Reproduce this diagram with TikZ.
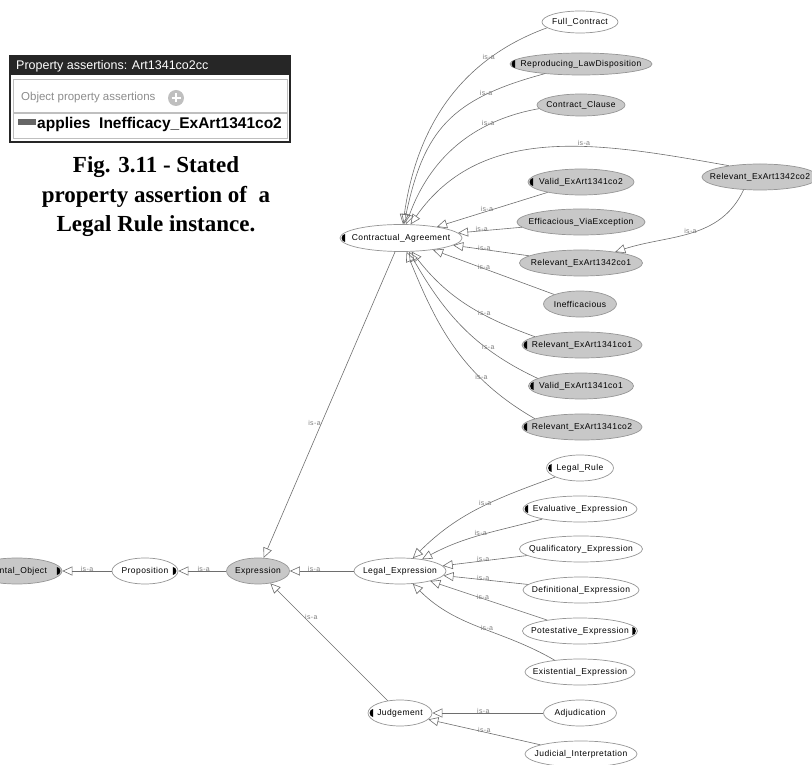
\documentclass[tikz,border=0pt]{standalone}
\usepackage{fontspec}
\usetikzlibrary{shapes.geometric, arrows.meta}

\newfontfamily\ontofont[LetterSpace=5]{Liberation Sans}
\newfontfamily\panelfont{Liberation Sans}
\newfontfamily\capfont{Liberation Serif}

\definecolor{clsgray}{RGB}{200,200,200}
\definecolor{rimgray}{RGB}{150,150,150}
\definecolor{edgegray}{RGB}{110,110,110}
\definecolor{isagray}{RGB}{125,125,125}
\definecolor{bardark}{RGB}{38,38,38}

% small black half-disc markers inside the ellipses
\newcommand\markl[1]{\fill ([xshift=5.5pt]#1.west) ++(0,4pt) arc[start angle=90, end angle=270, x radius=3.5pt, y radius=4pt] -- cycle;}
\newcommand\markr[1]{\fill ([xshift=-5.5pt]#1.east) ++(0,4pt) arc[start angle=90, end angle=-90, x radius=3.5pt, y radius=4pt] -- cycle;}

\begin{document}
\begin{tikzpicture}[x=1pt, y=1pt,
    cls/.style={ellipse, draw=rimgray, line width=0.7pt, inner sep=0pt,
      minimum height=26pt, font=\ontofont\fontsize{8.5}{9}\selectfont,
      execute at begin node={\hbox to 0pt\bgroup\hss},
      execute at end node={\hss\egroup}},
    gcls/.style={cls, fill=clsgray},
    wcls/.style={cls, fill=white},
    isa/.style={font=\ontofont\fontsize{7}{7}\selectfont, text=isagray, inner sep=0.5pt, yshift=2pt},
    sub/.style={draw=edgegray, line width=0.6pt, -{Triangle[open, length=10pt, width=9pt]}}]

    \useasboundingbox (0,0) rectangle (812,764);
    \clip (0,0) rectangle (812,764);

    % 1. Panel "Property assertions" and caption
    \draw[line width=1.5pt, bardark] (10,622) rectangle (290,708);
    \fill[bardark] (10,689) rectangle (290,708);
    \node[anchor=west, text=white, inner sep=0pt, font=\panelfont\fontsize{12.5}{13}\selectfont]
        (ptitle) at (16,698) {Property assertions: Art1341co2cc};
    \draw[black!25] (13,652) rectangle (287,685);
    \node[anchor=west, text=black!45, inner sep=0pt, font=\panelfont\fontsize{11.5}{12}\selectfont]
        (phead) at (21,666) {Object property assertions};
    \node[circle, fill=black!25, minimum size=16pt, inner sep=0pt] (pplus) at (176,666) {};
    \draw[white, line width=2pt] ([xshift=-4.5pt]pplus.center) -- ([xshift=4.5pt]pplus.center)
        ([yshift=-4.5pt]pplus.center) -- ([yshift=4.5pt]pplus.center);
    \draw[black!25] (13,626) rectangle (287,651);
    \fill[black!60] (18,639) rectangle (36,645);
    \node[anchor=west, inner sep=0pt, font=\panelfont\bfseries\fontsize{15.5}{16}\selectfont]
        (passert) at (37,640) {applies\ \ Inefficacy\_ExArt1341co2};

    \node[align=center, font=\capfont\bfseries\fontsize{23}{29.5}\selectfont]
        (caption) at (156,567) {Fig. 3.11 - Stated\\property assertion of\ \ a\\Legal Rule instance.};

    % 2. Classes
    \node[gcls, minimum width=90pt] (mo) at (17,193) {Mental\_Object};
    \node[wcls, minimum width=66pt] (prop) at (145,193) {Proposition};
    \node[gcls, minimum width=63pt] (expr) at (258,193) {Expression};
    \node[wcls, minimum width=92pt] (lexp) at (400,193) {Legal\_Expression};
    \node[wcls, minimum width=64pt] (judg) at (400,51) {Judgement};
    \node[wcls, minimum width=122pt, minimum height=27pt] (ca) at (401,526) {Contractual\_Agreement};

    \node[wcls, minimum width=76pt, minimum height=22pt] (fc) at (580,742) {Full\_Contract};
    \node[gcls, minimum width=142pt, minimum height=22pt] (rld) at (581,700) {Reproducing\_LawDisposition};
    \node[gcls, minimum width=88pt, minimum height=22pt] (cc) at (581,659) {Contract\_Clause};
    \node[gcls, minimum width=116pt] (rb2) at (760,587) {Relevant\_ExArt1342co2};
    \node[gcls, minimum width=106pt] (va2) at (581,582) {Valid\_ExArt1341co2};
    \node[gcls, minimum width=128pt] (eve) at (581,542) {Efficacious\_ViaException};
    \node[gcls, minimum width=123pt] (rb1) at (581,501) {Relevant\_ExArt1342co1};
    \node[gcls, minimum width=73pt] (ineff) at (580,460) {Inefficacious};
    \node[gcls, minimum width=120pt] (ra1) at (582,419) {Relevant\_ExArt1341co1};
    \node[gcls, minimum width=105pt] (va1) at (581,378) {Valid\_ExArt1341co1};
    \node[gcls, minimum width=120pt] (ra2) at (582,337) {Relevant\_ExArt1341co2};

    \node[wcls, minimum width=67pt] (lr) at (580,296) {Legal\_Rule};
    \node[wcls, minimum width=114pt] (eva) at (580,255) {Evaluative\_Expression};
    \node[wcls, minimum width=123pt] (qua) at (581,215) {Qualificatory\_Expression};
    \node[wcls, minimum width=116pt] (dfn) at (581,174) {Definitional\_Expression};
    \node[wcls, minimum width=115pt] (pot) at (580,133) {Potestative\_Expression};
    \node[wcls, minimum width=110pt] (exi) at (580,92) {Existential\_Expression};
    \node[wcls, minimum width=73pt] (adj) at (580,51) {Adjudication};
    \node[wcls, minimum width=112pt] (jin) at (581,10) {Judicial\_Interpretation};

    \markr{mo} \markr{prop} \markr{pot}
    \markl{ca} \markl{rld} \markl{va2} \markl{ra1} \markl{va1} \markl{ra2}
    \markl{lr} \markl{eva} \markl{judg}

    % 3. is-a links, the arrow points to the super class
    \draw[sub] (prop) -- node[isa, pos=0.5]{is-a} (mo);
    \draw[sub] (expr) -- node[isa, pos=0.47]{is-a} (prop);
    \draw[sub] (lexp) -- node[isa, pos=0.62]{is-a} (expr);
    \draw[sub] (ca) -- node[isa, pos=0.56, anchor=east, yshift=-2pt]{is-a} (expr);
    \draw[sub] (judg) -- node[isa, pos=0.71, anchor=west, yshift=-2pt]{is-a} (expr);
    \draw[sub] (adj) -- node[isa, pos=0.54]{is-a} (judg);
    \draw[sub] (jin) -- node[isa, pos=0.5]{is-a} (judg);

    % under Legal_Expression
    \draw[sub] (lr.200) to[out=200, in=45] node[isa, pos=0.45]{is-a} (lexp);
    \draw[sub] (eva.195) to[out=195, in=28] node[isa, pos=0.5]{is-a} (lexp);
    \draw[sub] (qua) -- node[isa, pos=0.52]{is-a} (lexp);
    \draw[sub] (dfn) -- node[isa, pos=0.53]{is-a} (lexp);
    \draw[sub] (pot) -- node[isa, pos=0.55]{is-a} (lexp);
    \draw[sub] (exi.155) to[out=150, in=-45] node[isa, pos=0.45]{is-a} (lexp);

    % under Contractual_Agreement
    \draw[sub] (fc.190) to[out=200, in=82] node[isa, pos=0.25]{is-a} (ca);
    \draw[sub] (rld.195) to[out=195, in=78, looseness=1.2] node[isa, pos=0.25]{is-a} (ca);
    \draw[sub] (cc.185) to[out=190, in=70] node[isa, pos=0.28]{is-a} (ca);
    \draw[sub] (rb2.160) to[out=170, in=55] node[isa, pos=0.4, yshift=2pt]{is-a} (ca);
    \draw[sub] (va2) -- node[isa, pos=0.55]{is-a} (ca);
    \draw[sub] (eve) -- node[isa, pos=0.63]{is-a} (ca);
    \draw[sub] (rb1) -- node[isa, pos=0.59]{is-a} (ca);
    \draw[sub] (ineff) -- node[isa, pos=0.58]{is-a} (ca);
    \draw[sub] (ra1.170) to[out=160, in=-52] node[isa, pos=0.35]{is-a} (ca);
    \draw[sub] (va1.170) to[out=155, in=-60] node[isa, pos=0.3]{is-a} (ca);
    \draw[sub] (ra2.170) to[out=150, in=-68] node[isa, pos=0.3]{is-a} (ca);
    \draw[sub] (rb2.218) to[out=245, in=18] node[isa, pos=0.5]{is-a} (rb1);

\end{tikzpicture}
\end{document}
